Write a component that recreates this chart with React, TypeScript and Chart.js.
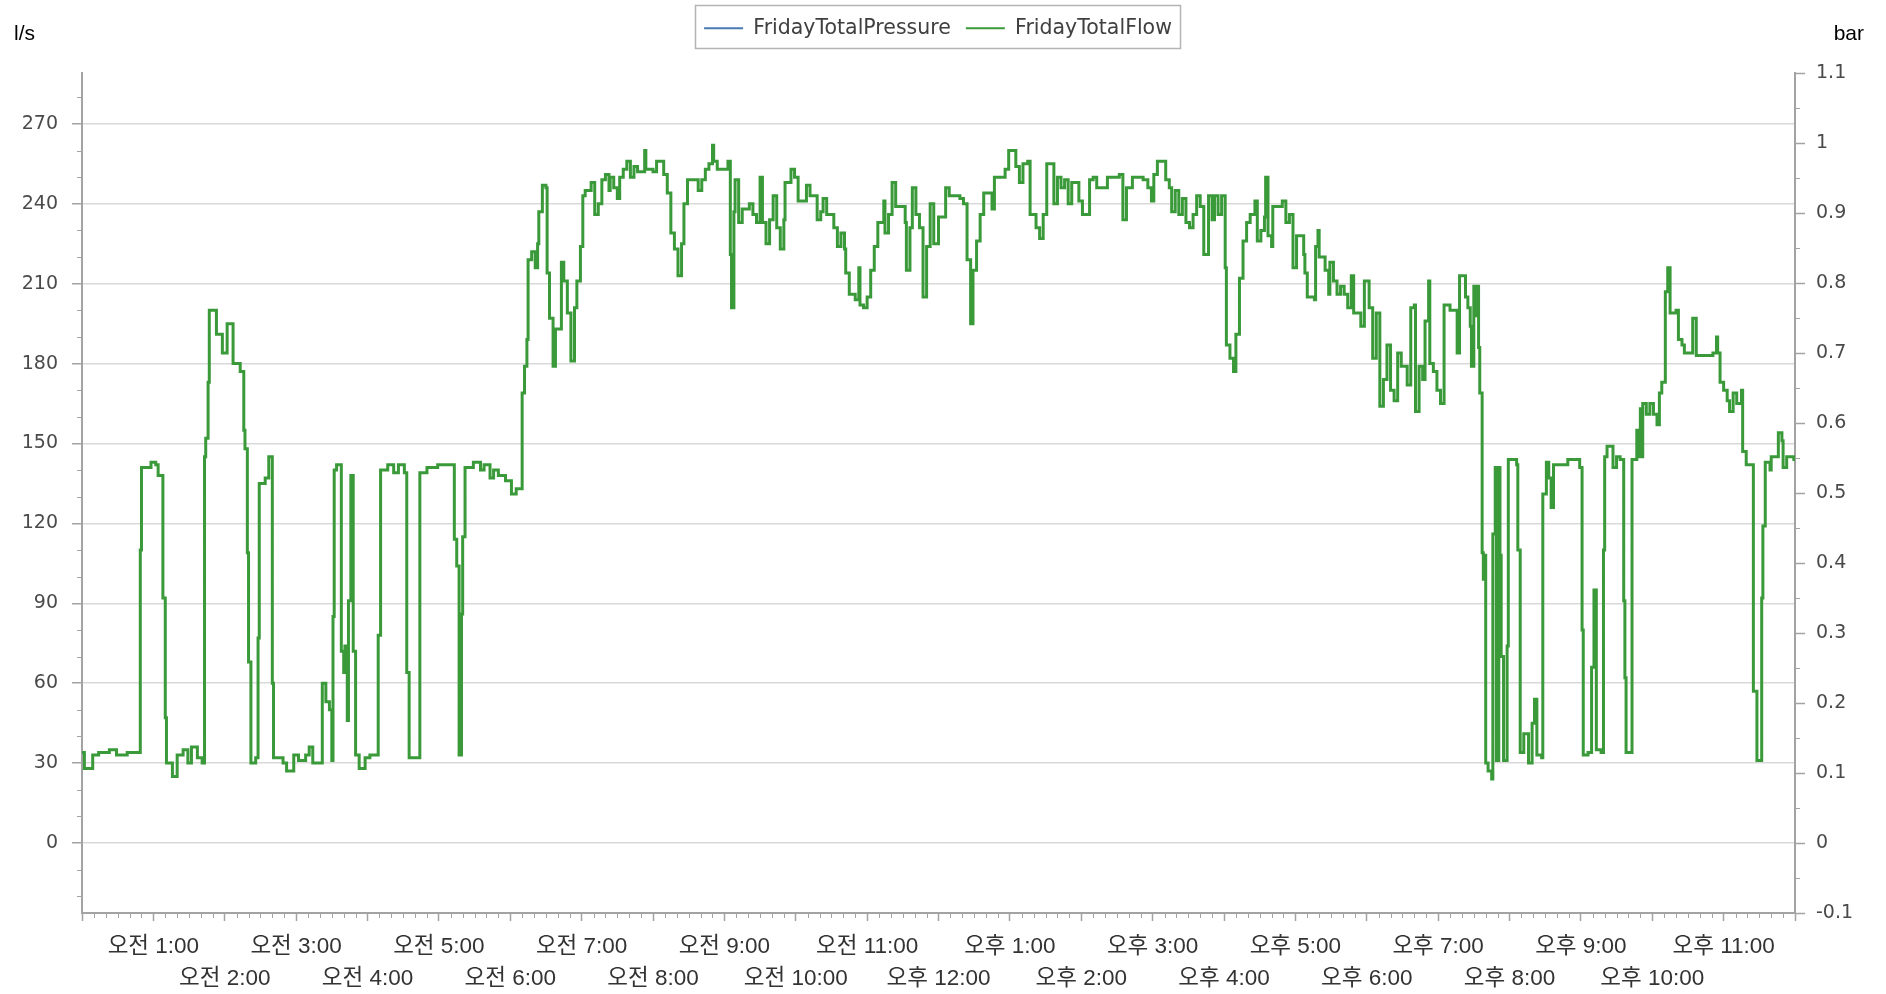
import React, { useEffect, useRef } from "react";
import { Chart, registerables } from "chart.js";

Chart.register(...registerables);

// ---------- data ----------
const seriesNames = ["FridayTotalPressure", "FridayTotalFlow"];
const seriesColors = ["#4a7ab4", "#3a9a3a"];

// x axis: minutes since midnight, one tick per hour
const hourTicks = [0, 60, 120, 180, 240, 300, 360, 420, 480, 540, 600, 660, 720, 780, 840, 900, 960, 1020, 1080, 1140, 1200, 1260, 1320, 1380, 1440];
const flowTicks = [0, 30, 60, 90, 120, 150, 180, 210, 240, 270];
const pressureTicks = [-0.1, 0, 0.1, 0.2, 0.3, 0.4, 0.5, 0.6, 0.7, 0.8, 0.9, 1.0, 1.1];

// pressure series has no visible samples in the picture
const pressureValues: [number, number][] = [];

// flow (l/s): [minute, value]
const flowEarly: [number, number][] = [
  [0, 34], [2, 28], [9, 33], [14, 34], [23, 35], [29, 33], [38, 34], [49, 110], [50, 141], [58, 143],
  [62, 142], [64, 138], [68, 92], [70, 47], [71, 30], [76, 25], [80, 33], [85, 35], [89, 30], [92, 36],
  [97, 32], [101, 30], [103, 145], [104, 152], [106, 173], [107, 200], [113, 191], [118, 184], [122, 195], [127, 180],
  [133, 177], [136, 155], [137, 148], [139, 109], [140, 68], [142, 30], [146, 32], [148, 77], [149, 135], [154, 137],
  [157, 145], [160, 60], [161, 32], [169, 30], [172, 27], [178, 33], [182, 31], [188, 33], [191, 36], [194, 30],
  [202, 60], [205, 53], [208, 50], [210, 31], [211, 85], [212, 140], [214, 142], [218, 72], [220, 64], [221, 74],
  [223, 46], [224, 91], [226, 138], [228, 72], [230, 33], [233, 28], [238, 32], [242, 33], [249, 78], [251, 140],
  [257, 142], [262, 139], [266, 142], [271, 139], [273, 64], [275, 32], [284, 139], [290, 141], [299, 142], [311, 142],
  [313, 114], [315, 104], [317, 33], [319, 86], [320, 115], [322, 141], [329, 143], [335, 140], [338, 142], [343, 137],
  [346, 140], [350, 138], [356, 136], [361, 131], [365, 133], [370, 169],
];

const flowMorning: [number, number][] = [
  [372, 179], [374, 189], [375, 219], [378, 222], [381, 216], [383, 225], [384, 237], [387, 247], [390, 246], [391, 214],
  [393, 197], [396, 179], [398, 193], [403, 218], [405, 211], [408, 199], [411, 181], [414, 201], [416, 211], [419, 224],
  [421, 243], [423, 245], [428, 248], [431, 236], [434, 240], [437, 249], [440, 251], [443, 245], [444, 250], [447, 246],
  [450, 242], [452, 250], [455, 253], [458, 256], [461, 250], [464, 254], [467, 252], [473, 260], [474, 253], [480, 252],
  [483, 256], [489, 251], [492, 244], [495, 229], [498, 223], [501, 213], [504, 225], [506, 240], [509, 249], [515, 249],
  [518, 245], [521, 249], [524, 253], [527, 255], [530, 262], [531, 256], [534, 253], [543, 256], [545, 221], [546, 201],
  [548, 237], [549, 249], [552, 233], [555, 238], [561, 240], [564, 236], [567, 233], [570, 250], [572, 233], [575, 225],
  [578, 234], [581, 243], [584, 231], [587, 223], [590, 234], [591, 248], [596, 253], [599, 250], [602, 241], [609, 247],
  [612, 243], [618, 234], [621, 237], [623, 242], [626, 236], [632, 231], [635, 224], [638, 229], [641, 223], [642, 214],
  [645, 206], [650, 204], [653, 216], [654, 202], [657, 201], [660, 205], [663, 215], [666, 224], [669, 233], [674, 241],
  [675, 229], [678, 236], [681, 248], [684, 239], [692, 233], [693, 215], [696, 231], [698, 246], [701, 236], [704, 231],
  [707, 205], [710, 224], [713, 240], [716, 225], [720, 235], [726, 246], [729, 243], [738, 242], [741, 240], [744, 219],
  [747, 195], [749, 215], [752, 226], [755, 236], [758, 244], [765, 238], [767, 250], [776, 253], [779, 260], [785, 254],
  [788, 248], [791, 255], [795, 256], [797, 236], [802, 231], [805, 227], [808, 236], [811, 255], [814, 255], [817, 240],
  [820, 250],
];

const flowAfternoon: [number, number][] = [
  [823, 246], [826, 249], [829, 240], [832, 248], [838, 241], [841, 236], [847, 249], [850, 250], [853, 246], [862, 250],
  [872, 251], [875, 234], [878, 246], [883, 250], [892, 249], [896, 246], [899, 241], [901, 251], [904, 256], [908, 256],
  [911, 249], [914, 246], [916, 237], [919, 245], [922, 236], [925, 242], [928, 233], [931, 231], [934, 236], [937, 243],
  [940, 239], [943, 221], [946, 221], [947, 243], [950, 234], [952, 243], [955, 236], [958, 243], [961, 216], [962, 187],
  [965, 182], [968, 177], [970, 191], [973, 212], [976, 226], [979, 233], [982, 236], [986, 241], [988, 226], [991, 230],
  [994, 235], [995, 250], [997, 228], [1000, 224], [1001, 239], [1009, 241], [1012, 233], [1015, 236], [1018, 216], [1021, 228],
  [1027, 221], [1028, 214], [1030, 205], [1036, 204], [1037, 224], [1039, 230], [1040, 220], [1045, 215], [1048, 206], [1049, 218],
  [1052, 211], [1055, 206], [1058, 209], [1061, 206], [1064, 201], [1067, 213], [1069, 199], [1075, 194], [1078, 211], [1082, 201],
  [1085, 182], [1088, 199], [1091, 164], [1094, 174], [1097, 187], [1100, 170], [1103, 166], [1106, 184], [1109, 179], [1114, 172],
  [1117, 201], [1120, 202], [1121, 162], [1124, 179], [1127, 174], [1129, 196], [1132, 211], [1133, 180], [1136, 177], [1139, 170],
  [1142, 165], [1145, 202],
];

const flowEvening: [number, number][] = [
  [1150, 200], [1156, 184], [1158, 213], [1163, 205], [1165, 201], [1167, 194], [1168, 179], [1170, 209], [1171, 198], [1172, 209],
  [1174, 186], [1175, 169], [1177, 109], [1178, 99], [1179, 108], [1180, 30], [1182, 27], [1185, 24], [1186, 116], [1188, 141],
  [1189, 31], [1191, 141], [1192, 108], [1193, 70], [1195, 31], [1198, 74], [1199, 144], [1206, 142], [1207, 110], [1209, 34],
  [1212, 41], [1216, 30], [1219, 45], [1221, 54], [1223, 33], [1227, 32], [1228, 131], [1231, 143], [1233, 137], [1235, 126],
  [1237, 142], [1249, 144], [1259, 141], [1261, 80], [1262, 33], [1266, 34], [1269, 66], [1271, 95], [1273, 35], [1277, 34],
  [1279, 110], [1280, 145], [1282, 149], [1287, 141], [1290, 145], [1293, 144], [1296, 91], [1297, 62], [1298, 34], [1301, 34],
  [1303, 144], [1307, 155], [1308, 145], [1310, 163], [1311, 145], [1312, 165], [1315, 161], [1318, 165], [1321, 161], [1324, 157],
  [1326, 169], [1328, 173], [1331, 207], [1333, 216], [1335, 199], [1340, 200], [1342, 189], [1345, 187], [1347, 184], [1353, 184],
  [1354, 197], [1357, 183], [1371, 184], [1374, 190], [1375, 184], [1377, 173], [1380, 170], [1383, 166], [1385, 162], [1388, 169],
  [1391, 165], [1395, 170], [1396, 147], [1399, 142], [1403, 142], [1405, 57], [1408, 31], [1410, 31], [1412, 92], [1413, 119],
  [1415, 143], [1419, 140], [1420, 145], [1426, 154], [1429, 151], [1430, 141], [1433, 145], [1439, 144], [1440, 144],
];

// ---------- styling ----------
const AXIS_COLOR = "#a3a3a3";
const GRID_COLOR = "#d9d9d9";
const TICK_TEXT = "#4a4a4a";
const NUM_FONT = '"DejaVu Sans", Verdana, sans-serif';
const LABEL_FONT = '"Liberation Sans", "Noto Sans CJK KR", Arial, sans-serif';

function hourLabel(minutes: number): string | string[] {
  const h = Math.round(minutes / 60);
  if (h <= 0 || h >= 24) return "";
  const text = h < 12 ? `오전 ${h}:00` : `오후 ${h === 12 ? 12 : h - 12}:00`;
  return h % 2 === 1 ? text : ["", text];
}

function pressureLabel(v: number): string {
  return String(Math.round(v * 10) / 10);
}

const toPoints = (rows: [number, number][]) => rows.map(([x, y]) => ({ x, y }));

const decorPlugin = {
  id: "decor",
  beforeLayout(chart: any) {
    const lg = chart.legend;
    if (lg && !lg.__patched) {
      const orig = lg.fit.bind(lg);
      lg.fit = function () {
        orig();
        this.height = 73;
      };
      lg.__patched = true;
    }
  },
  afterLayout(chart: any) {
    const lg = chart.legend;
    if (lg) {
      lg.left -= 5;
      lg.right -= 5;
      lg.top += 3;
    }
  },
  afterDraw(chart: any) {
    const ctx = chart.ctx as CanvasRenderingContext2D;
    const area = chart.chartArea;
    const xs = chart.scales.x;
    const ys = chart.scales.y;
    const y1 = chart.scales.y1;
    ctx.save();
    // minor ticks
    ctx.strokeStyle = AXIS_COLOR;
    ctx.lineWidth = 1;
    ctx.beginPath();
    for (let m = 10; m < 1440; m += 10) {
      if (m % 60 === 0) continue;
      const px = Math.round(xs.getPixelForValue(m)) + 0.5;
      ctx.moveTo(px, area.bottom);
      ctx.lineTo(px, area.bottom + 5);
    }
    for (let v = -20; v <= 280; v += 10) {
      if (v % 30 === 0) continue;
      const py = Math.round(ys.getPixelForValue(v)) + 0.5;
      ctx.moveTo(area.left - 5, py);
      ctx.lineTo(area.left, py);
    }
    for (let k = -1; k < 11; k++) {
      const v = k / 10 + 0.05;
      const py = Math.round(y1.getPixelForValue(v)) + 0.5;
      ctx.moveTo(area.right, py);
      ctx.lineTo(area.right + 5, py);
    }
    ctx.stroke();

    // unit titles
    ctx.fillStyle = "#000000";
    ctx.font = '21px "Liberation Sans", Arial, sans-serif';
    ctx.textBaseline = "middle";
    ctx.textAlign = "left";
    ctx.fillText("l/s", 14, 34);
    ctx.textAlign = "right";
    ctx.fillText("bar", chart.width - 22, 34);

    // legend frame
    const hb = chart.legend?.legendHitBoxes || [];
    if (hb.length) {
      const l = Math.min(...hb.map((b: any) => b.left)) - 9;
      const r = Math.max(...hb.map((b: any) => b.left + b.width)) + 8;
      ctx.strokeStyle = "#b4b4b4";
      ctx.lineWidth = 1.5;
      ctx.strokeRect(Math.round(l) + 0.5, 5.5, Math.round(r - l), 43);
    }
    ctx.restore();
  },
};

export default function App() {
  const canvasRef = useRef<HTMLCanvasElement | null>(null);

  useEffect(() => {
    const canvas = canvasRef.current;
    if (!canvas) return;
    const flowPoints = [
      ...toPoints(flowEarly),
      ...toPoints(flowMorning),
      ...toPoints(flowAfternoon),
      ...toPoints(flowEvening),
    ];
    const chart = new Chart(canvas, {
      type: "line",
      data: {
        datasets: [
          {
            label: seriesNames[0],
            data: toPoints(pressureValues),
            borderColor: seriesColors[0],
            backgroundColor: seriesColors[0],
            borderWidth: 2,
            pointRadius: 0,
            yAxisID: "y1",
            xAxisID: "x",
          },
          {
            label: seriesNames[1],
            data: flowPoints,
            borderColor: seriesColors[1],
            backgroundColor: seriesColors[1],
            borderWidth: 3,
            pointRadius: 0,
            stepped: true,
            yAxisID: "y",
            xAxisID: "x",
          },
        ],
      },
      options: {
        animation: false,
        responsive: false,
        maintainAspectRatio: false,
        devicePixelRatio: 1,
        layout: { padding: 0 },
        plugins: {
          tooltip: { enabled: false },
          legend: {
            display: true,
            position: "top",
            align: "center",
            labels: {
              usePointStyle: true,
              pointStyle: "line",
              pointStyleWidth: 39,
              padding: 15,
              color: "#404040",
              font: { family: NUM_FONT, size: 20.5 },
              generateLabels: (ch: any) =>
                ch.data.datasets.map((ds: any, i: number) => ({
                  text: ds.label,
                  fillStyle: ds.borderColor,
                  strokeStyle: ds.borderColor,
                  lineWidth: 2,
                  pointStyle: "line",
                  hidden: false,
                  datasetIndex: i,
                  fontColor: "#404040",
                })),
            },
          },
        },
        scales: {
          x: {
            type: "linear",
            position: "bottom",
            min: 0,
            max: 1440,
            afterBuildTicks: (s: any) => {
              s.ticks = hourTicks.map((v) => ({ value: v }));
            },
            afterFit: (s: any) => {
              s.height = 81;
            },
            ticks: {
              autoSkip: false,
              maxRotation: 0,
              minRotation: 0,
              padding: 10,
              color: "#333333",
              font: { family: LABEL_FONT, size: 22.5, lineHeight: 1.42 },
              callback: (v: any) => hourLabel(Number(v)),
            },
            grid: {
              drawOnChartArea: false,
              drawTicks: true,
              tickLength: 8,
              tickColor: AXIS_COLOR,
              tickWidth: 1.5,
            },
            border: { display: true, color: AXIS_COLOR, width: 2 },
          },
          y: {
            type: "linear",
            position: "left",
            min: -26.28,
            max: 289.1,
            afterBuildTicks: (s: any) => {
              s.ticks = flowTicks.map((v) => ({ value: v }));
            },
            afterFit: (s: any) => {
              s.width = 82;
            },
            ticks: {
              padding: 14,
              color: TICK_TEXT,
              font: { family: NUM_FONT, size: 19 },
              callback: (v: any) => String(v),
            },
            grid: {
              drawOnChartArea: true,
              color: GRID_COLOR,
              lineWidth: 1.5,
              tickLength: 10,
              tickColor: AXIS_COLOR,
              tickWidth: 1.5,
            },
            border: { display: true, color: AXIS_COLOR, width: 2 },
          },
          y1: {
            type: "linear",
            position: "right",
            min: -0.1,
            max: 1.1,
            afterBuildTicks: (s: any) => {
              s.ticks = pressureTicks.map((v) => ({ value: v }));
            },
            afterFit: (s: any) => {
              s.width = 91;
            },
            ticks: {
              padding: 11,
              color: TICK_TEXT,
              font: { family: NUM_FONT, size: 19 },
              callback: (v: any) => pressureLabel(Number(v)),
            },
            grid: {
              drawOnChartArea: false,
              tickLength: 10,
              tickColor: AXIS_COLOR,
              tickWidth: 1.5,
            },
            border: { display: true, color: AXIS_COLOR, width: 2 },
          },
        },
      } as any,
      plugins: [decorPlugin as any],
    });
    return () => chart.destroy();
  }, []);

  return (
    <div style={{ position: "fixed", left: 0, top: 0, width: 1886, height: 994, background: "#ffffff" }}>
      <canvas ref={canvasRef} width={1886} height={994} style={{ display: "block", width: 1886, height: 994 }} />
    </div>
  );
}
